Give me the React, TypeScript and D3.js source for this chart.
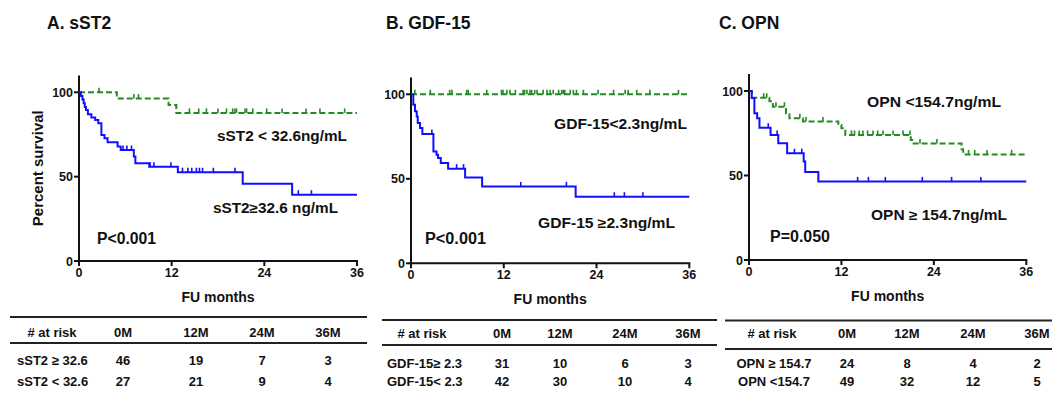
import * as d3 from 'd3';

const FONT = '"Liberation Sans", Arial, Helvetica, sans-serif';
const BLUE = '#1010ff';
const GREEN = '#238b23';

const monthTicks = [0, 12, 24, 36];
const survivalTicks = [0, 50, 100];
const riskColumns = ['0M', '12M', '24M', '36M'];

// A. sST2 — [month, % survival] at each drop
const sst2HighSteps: [number, number][] = [
  [0, 100], [0.25, 97.8], [0.45, 95.7], [0.6, 93.5], [0.75, 91.3], [0.9, 89.5],
  [1.15, 87.0], [1.6, 85.0], [2.1, 83.6], [2.5, 81.6], [2.9, 74.7], [3.3, 72.7],
  [3.7, 70.4], [5.0, 67.8], [5.4, 65.8], [7.1, 61.9], [7.3, 57.9], [9.1, 55.9],
  [12.8, 52.6], [21.2, 45.8], [27.6, 39.3],
];
const sst2HighCensor = [5.7, 6.2, 6.8, 9.2, 9.7, 11.9, 13.4, 14.1, 14.6, 15.2, 15.6, 16.0, 17.4, 20.2, 28.4, 30.1];
const sst2LowSteps: [number, number][] = [[0, 100], [4.9, 96.3], [11.6, 92.4], [12.6, 87.8]];
const sst2LowCensor = [2.6, 7.1, 7.7, 14.3, 15.5, 16.5, 18.0, 19.1, 19.9, 20.2, 20.4, 21.5, 21.7, 22.5, 24.3, 26.3, 29.4, 31.2, 34.4];
const sst2HighRisk = [46, 19, 7, 3];
const sst2LowRisk = [27, 21, 9, 4];

// B. GDF-15
const gdfHighSteps: [number, number][] = [
  [0, 100], [0.3, 93.8], [0.52, 89.9], [0.74, 86.9], [0.87, 83.0], [1.17, 80.0],
  [1.47, 76.5], [2.9, 66.2], [3.3, 64.2], [3.5, 62.3], [3.85, 59.3], [4.8, 56.0],
  [7.0, 50.8], [9.2, 45.5], [21.3, 39.4],
];
const gdfHighCensor = [2.7, 5.9, 6.8, 14.2, 20.1, 26.3, 27.6, 30.0];
const gdfLowSteps: [number, number][] = [[0, 100]];
const gdfLowCensor = [
  0.5, 2.5, 5.0, 5.3, 7.2, 7.4, 9.8, 11.7, 11.9, 12.4, 12.8, 13.5, 14.5, 14.7, 15.0,
  15.4, 15.6, 16.0, 16.3, 17.1, 17.6, 18.0, 18.4, 19.1, 19.5, 19.7, 19.9, 20.6, 21.0,
  21.4, 22.3, 24.2, 26.2, 27.7, 28.1, 29.2, 30.9, 34.6,
];
const gdfHighRisk = [31, 10, 6, 3];
const gdfLowRisk = [42, 30, 10, 4];

// C. OPN
const opnHighSteps: [number, number][] = [
  [0, 100], [0.35, 95.8], [0.7, 86.8], [1.06, 83.9], [1.36, 78.3], [2.8, 74.0],
  [3.8, 69.1], [4.95, 63.2], [7.1, 58.3], [7.3, 52.0], [9.0, 46.5],
];
const opnHighCensor = [2.5, 3.65, 5.9, 6.85, 14.1, 15.5, 17.7, 22.5, 26.3, 30.1];
const opnLowSteps: [number, number][] = [
  [0, 100], [0.37, 96.0], [2.65, 94.0], [3.1, 90.7], [4.8, 86.8], [5.25, 83.9],
  [7.0, 82.0], [11.6, 79.9], [12.0, 77.9], [12.5, 74.0], [21.0, 71.0], [21.2, 69.0],
  [27.6, 65.5], [27.8, 62.5],
];
const opnLowCensor = [
  1.9, 2.3, 3.5, 4.6, 6.6, 7.4, 9.6, 13.3, 13.7, 14.3, 14.8, 15.4, 16.1, 16.7, 17.4,
  18.7, 20.0, 20.9, 22.2, 24.4, 28.5, 29.3, 30.9, 34.1,
];
const opnHighRisk = [24, 8, 4, 2];
const opnLowRisk = [49, 32, 12, 5];

interface Label { text: string; x: number; y: number; w: number; size: number }

interface PanelCfg {
  title: string; titleX: number;
  x0: number; x1: number; y0: number; y100: number;
  high: [number, number][]; highCensor: number[];
  low: [number, number][]; lowCensor: number[];
  labels: Label[];
  yLabel: boolean;
  table: {
    x0: number; x1: number; lineY: [number, number];
    headX: number; cols: number[]; rowX: number; rowAnchor: 'start' | 'middle';
    headY: number; rowY: [number, number];
    rows: [string, number[]][];
  };
}

const panels: PanelCfg[] = [
  {
    title: 'A. sST2', titleX: 47, x0: 79, x1: 357, y0: 261, y100: 92.3,
    high: sst2HighSteps, highCensor: sst2HighCensor, low: sst2LowSteps, lowCensor: sst2LowCensor,
    labels: [
      { text: 'sST2 < 32.6ng/mL', x: 217, y: 141, w: 130, size: 14 },
      { text: 'sST2≥32.6 ng/mL', x: 213, y: 212.5, w: 125, size: 14 },
      { text: 'P<0.001', x: 97, y: 243.5, w: 59, size: 16 },
    ],
    yLabel: true,
    table: {
      x0: 10, x1: 367, lineY: [317, 343], headX: 52, cols: [123, 196, 262, 328],
      rowX: 17, rowAnchor: 'start', headY: 336.5, rowY: [365, 386],
      rows: [['sST2 ≥ 32.6', sst2HighRisk], ['sST2 < 32.6', sst2LowRisk]],
    },
  },
  {
    title: 'B. GDF-15', titleX: 386, x0: 411, x1: 689.3, y0: 263.3, y100: 94.3,
    high: gdfHighSteps, highCensor: gdfHighCensor, low: gdfLowSteps, lowCensor: gdfLowCensor,
    labels: [
      { text: 'GDF-15<2.3ng/mL', x: 554, y: 128.5, w: 133, size: 14 },
      { text: 'GDF-15 ≥2.3ng/mL', x: 538, y: 228, w: 137, size: 14 },
      { text: 'P<0.001', x: 425, y: 243.5, w: 61, size: 16 },
    ],
    yLabel: false,
    table: {
      x0: 382, x1: 717, lineY: [320, 345], headX: 422, cols: [502, 560, 625, 688],
      rowX: 387, rowAnchor: 'start', headY: 337.5, rowY: [367.5, 386],
      rows: [['GDF-15≥ 2.3', gdfHighRisk], ['GDF-15< 2.3', gdfLowRisk]],
    },
  },
  {
    title: 'C. OPN', titleX: 719, x0: 749, x1: 1026.3, y0: 260, y100: 91,
    high: opnHighSteps, highCensor: opnHighCensor, low: opnLowSteps, lowCensor: opnLowCensor,
    labels: [
      { text: 'OPN <154.7ng/mL', x: 867, y: 107, w: 134, size: 14 },
      { text: 'OPN ≥ 154.7ng/mL', x: 871, y: 220, w: 136, size: 14 },
      { text: 'P=0.050', x: 770, y: 241.5, w: 60, size: 16 },
    ],
    yLabel: false,
    table: {
      x0: 725, x1: 1052, lineY: [320.5, 349], headX: 772, cols: [847, 907, 973, 1037],
      rowX: 774, rowAnchor: 'middle', headY: 337.5, rowY: [367.5, 386],
      rows: [['OPN ≥ 154.7', opnHighRisk], ['OPN <154.7', opnLowRisk]],
    },
  },
];

const survivalAt = (steps: [number, number][], t: number) => {
  let s = steps[0][1];
  for (const [m, v] of steps) if (m <= t) s = v;
  return s;
};

function Curve({ steps, censor, x, y, color, dashed }: {
  steps: [number, number][]; censor: number[];
  x: d3.ScaleLinear<number, number>; y: d3.ScaleLinear<number, number>;
  color: string; dashed: boolean;
}) {
  const pts: [number, number][] = [...steps, [36, steps[steps.length - 1][1]]];
  const line = d3.line<[number, number]>()
    .x(d => x(d[0]))
    .y(d => y(d[1]))
    .curve(d3.curveStepAfter);
  return (
    <g>
      <path d={line(pts) || ''} fill="none" stroke={color} strokeWidth={2}
        strokeDasharray={dashed ? '6 3' : undefined} />
      {censor.map((m, i) => (
        <line key={i} x1={x(m)} x2={x(m)} y1={y(survivalAt(steps, m))} y2={y(survivalAt(steps, m)) - 4.5}
          stroke={color} strokeWidth={1.6} />
      ))}
    </g>
  );
}

function Panel({ cfg }: { cfg: PanelCfg }) {
  const x = d3.scaleLinear().domain([0, 36]).range([cfg.x0, cfg.x1]);
  const unit = (cfg.y0 - cfg.y100) / 100;
  const y = d3.scaleLinear().domain([0, 110]).range([cfg.y0, cfg.y0 - 110 * unit]);
  const t = cfg.table;
  return (
    <g fontFamily={FONT} fontWeight="bold" fill="#111">
      <text x={cfg.titleX} y={29} fontSize={17.5}>{cfg.title}</text>

      {/* axes */}
      <line x1={x(0)} x2={x(0)} y1={y(110)} y2={y(0) + 1} stroke="#111" strokeWidth={2} />
      <line x1={x(0) - 1} x2={x(36) + 1} y1={y(0)} y2={y(0)} stroke="#111" strokeWidth={2} />
      {survivalTicks.map(v => (
        <g key={v}>
          <line x1={x(0) - 5} x2={x(0)} y1={y(v)} y2={y(v)} stroke="#111" strokeWidth={2} />
          <text x={x(0) - 6} y={y(v) + 4.5} fontSize={12.5} textAnchor="end">{v}</text>
        </g>
      ))}
      {monthTicks.map(m => (
        <g key={m}>
          <line x1={x(m)} x2={x(m)} y1={y(0)} y2={y(0) + 5} stroke="#111" strokeWidth={2} />
          <text x={x(m)} y={y(0) + 16} fontSize={12.5} textAnchor="middle">{m}</text>
        </g>
      ))}
      <text x={(x(0) + x(36)) / 2} y={y(0) + 41} fontSize={14} textAnchor="middle">FU months</text>
      {cfg.yLabel && (
        <text transform={`translate(43,${(y(0) + y(110)) / 2}) rotate(-90)`} fontSize={15}
          textAnchor="middle">Percent survival</text>
      )}

      <Curve steps={cfg.low} censor={cfg.lowCensor} x={x} y={y} color={GREEN} dashed />
      <Curve steps={cfg.high} censor={cfg.highCensor} x={x} y={y} color={BLUE} dashed={false} />

      {cfg.labels.map(l => (
        <text key={l.text} x={l.x} y={l.y} fontSize={l.size} textLength={l.w}
          lengthAdjust="spacingAndGlyphs">{l.text}</text>
      ))}

      {/* numbers at risk */}
      {t.lineY.map(ly => (
        <line key={ly} x1={t.x0} x2={t.x1} y1={ly} y2={ly} stroke="#222" strokeWidth={2} />
      ))}
      <g fontSize={13}>
        <text x={t.headX} y={t.headY} textAnchor="middle"># at risk</text>
        {riskColumns.map((c, i) => (
          <text key={c} x={t.cols[i]} y={t.headY} textAnchor="middle">{c}</text>
        ))}
        {t.rows.map(([name, vals], r) => (
          <g key={name}>
            <text x={t.rowX} y={t.rowY[r]} textAnchor={t.rowAnchor}>{name}</text>
            {vals.map((v, i) => (
              <text key={i} x={t.cols[i]} y={t.rowY[r]} textAnchor="middle">{v}</text>
            ))}
          </g>
        ))}
      </g>
    </g>
  );
}

export default function App() {
  return (
    <div style={{ position: 'absolute', left: 0, top: 0 }}>
      <svg width={1052} height={399} style={{ display: 'block', background: '#fff' }}>
        {panels.map(p => <Panel key={p.title} cfg={p} />)}
      </svg>
    </div>
  );
}
